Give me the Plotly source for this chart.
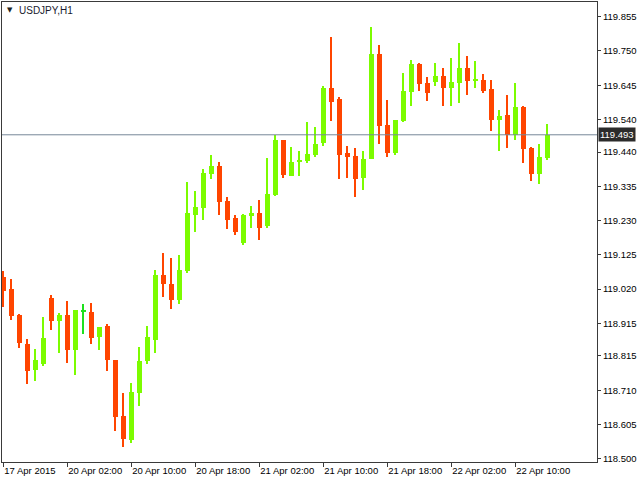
import plotly.graph_objects as go

# ---- data (USDJPY, H1) ----
bar_index = list(range(69))
tick_positions = [0, 8, 16, 24, 32, 40, 48, 56, 64]
tick_labels = ["17 Apr 2015", "20 Apr 02:00", "20 Apr 10:00", "20 Apr 18:00",
               "21 Apr 02:00", "21 Apr 10:00", "21 Apr 18:00", "22 Apr 02:00",
               "22 Apr 10:00"]

opens = [
    119.058, 119.020, 118.941, 118.852, 118.773, 118.791, 118.993, 118.923, 118.941, 118.834,
    118.953, 118.950, 118.874, 118.907, 118.802, 118.631, 118.558, 118.702, 118.800, 118.865,
    119.063, 119.035, 118.987, 119.076, 119.247, 119.269, 119.374, 119.397, 119.290, 119.238,
    119.162, 119.245, 119.253, 119.214, 119.308, 119.477, 119.366, 119.409, 119.412, 119.431,
    119.468, 119.636, 119.603, 119.437, 119.428, 119.360, 119.419, 119.740, 119.523, 119.437,
    119.535, 119.624, 119.710, 119.652, 119.656, 119.673, 119.637, 119.653, 119.698, 119.659,
    119.661, 119.633, 119.539, 119.553, 119.493, 119.578, 119.452, 119.374, 119.423]
highs = [
    119.076, 119.051, 118.944, 118.867, 118.836, 118.934, 119.002, 118.947, 118.984, 118.956,
    118.974, 118.977, 118.904, 118.913, 118.802, 118.701, 118.732, 118.842, 118.907, 119.078,
    119.130, 119.115, 119.124, 119.348, 119.320, 119.388, 119.431, 119.409, 119.302, 119.247,
    119.250, 119.274, 119.293, 119.422, 119.492, 119.477, 119.455, 119.443, 119.532, 119.517,
    119.642, 119.793, 119.609, 119.458, 119.452, 119.443, 119.823, 119.768, 119.599, 119.538,
    119.682, 119.722, 119.713, 119.670, 119.713, 119.698, 119.728, 119.774, 119.734, 119.719,
    119.679, 119.661, 119.569, 119.615, 119.652, 119.581, 119.455, 119.465, 119.526]
lows = [
    118.966, 118.926, 118.840, 118.729, 118.739, 118.785, 118.896, 118.825, 118.794, 118.758,
    118.883, 118.852, 118.834, 118.770, 118.586, 118.537, 118.549, 118.662, 118.791, 118.825,
    118.996, 118.960, 118.975, 119.070, 119.196, 119.232, 119.358, 119.248, 119.205, 119.187,
    119.156, 119.208, 119.171, 119.208, 119.306, 119.361, 119.366, 119.366, 119.406, 119.425,
    119.458, 119.535, 119.357, 119.360, 119.302, 119.324, 119.419, 119.465, 119.425, 119.431,
    119.532, 119.581, 119.627, 119.597, 119.643, 119.582, 119.582, 119.591, 119.616, 119.637,
    119.622, 119.505, 119.444, 119.453, 119.478, 119.407, 119.352, 119.343, 119.416]
closes = [
    119.015, 118.938, 118.856, 118.770, 118.803, 118.870, 118.923, 118.941, 118.834, 118.956,
    118.953, 118.871, 118.904, 118.803, 118.629, 118.561, 118.704, 118.799, 118.873, 119.063,
    119.036, 118.987, 119.078, 119.253, 119.271, 119.376, 119.397, 119.288, 119.232, 119.196,
    119.247, 119.253, 119.208, 119.311, 119.477, 119.370, 119.409, 119.416, 119.434, 119.465,
    119.636, 119.593, 119.431, 119.425, 119.357, 119.419, 119.740, 119.520, 119.437, 119.538,
    119.627, 119.710, 119.649, 119.622, 119.673, 119.637, 119.655, 119.698, 119.659, 119.661,
    119.628, 119.539, 119.550, 119.493, 119.578, 119.450, 119.374, 119.426, 119.493]

y_tick_values = [119.855, 119.750, 119.645, 119.540, 119.440, 119.335, 119.230,
                 119.125, 119.020, 118.915, 118.815, 118.710, 118.605, 118.500]
last_price = 119.493
symbol_label = "USDJPY,H1"

# ---- styling ----
UP = "#7CFC00"
DOWN = "#FF4500"
DOJI = "#1EE01E"
FRAME = "#3a3a3a"
FONT = "Liberation Sans"
MIN_BODY = 0.0035

colors = []
for o, c in zip(opens, closes):
    colors.append(UP if c > o else (DOWN if c < o else DOJI))

body_base = []
body_height = []
for o, c in zip(opens, closes):
    h = abs(c - o)
    if h < MIN_BODY:
        body_base.append(min(o, c) - (MIN_BODY - h) / 2)
        body_height.append(MIN_BODY)
    else:
        body_base.append(min(o, c))
        body_height.append(h)

wick_height = [h - l for h, l in zip(highs, lows)]

fig = go.Figure()
fig.add_trace(go.Bar(x=bar_index, y=wick_height, base=lows, width=0.14,
                     marker=dict(color=colors, line=dict(width=0)),
                     hoverinfo="skip", showlegend=False))
fig.add_trace(go.Bar(x=bar_index, y=body_height, base=body_base, width=0.625,
                     marker=dict(color=colors, line=dict(width=0)),
                     hoverinfo="skip", showlegend=False))

W, H = 640, 480
ml, mr, mt, mb = 2, 43, 2, 18
pw = W - ml - mr  # 595
ph = H - mt - mb  # 460
px_per_bar = 8.0
x0 = -1.3 / px_per_bar
x1 = x0 + pw / px_per_bar

fig.update_layout(
    width=W, height=H,
    margin=dict(l=ml, r=mr, t=mt, b=mb, pad=0),
    paper_bgcolor="white", plot_bgcolor="white",
    barmode="overlay", bargap=0,
    showlegend=False,
    font=dict(family=FONT, size=9.5, color="#000000"),
    xaxis=dict(range=[x0, x1], showgrid=False, zeroline=False,
               showline=True, mirror=True, linecolor=FRAME, linewidth=1,
               ticks="outside", ticklen=4, tickcolor=FRAME, tickwidth=1,
               tickmode="array", tickvals=tick_positions, ticktext=tick_labels,
               ticklabelposition="outside right",
               tickfont=dict(family=FONT, size=9.5, color="#000000")),
    yaxis=dict(range=[118.4899, 119.9001], side="right", showgrid=False,
               zeroline=False, showline=True, mirror=True, linecolor=FRAME,
               linewidth=1, ticks="outside", ticklen=3, tickcolor=FRAME,
               tickwidth=1, tickmode="array", tickvals=y_tick_values,
               ticktext=[f"{v:.3f}" for v in y_tick_values],
               tickfont=dict(family=FONT, size=9.5, color="#000000")),
)

fig.add_shape(type="line", xref="paper", x0=0, x1=1, yref="y",
              y0=last_price, y1=last_price,
              line=dict(color="#778899", width=1))

fig.add_annotation(xref="paper", x=1, xanchor="left", xshift=1,
                   yref="y", y=last_price, yanchor="middle",
                   text=f"{last_price:.3f}", showarrow=False,
                   bgcolor="#2b2b2b", borderpad=1,
                   font=dict(family=FONT, size=9.5, color="white"))

fig.add_annotation(xref="paper", x=(5 - ml) / pw, xanchor="left",
                   yref="paper", y=(H - mb - 10) / ph, yanchor="middle",
                   text="\u25BC", showarrow=False,
                   font=dict(family="DejaVu Sans", size=7, color="#222222"))
fig.add_annotation(xref="paper", x=(17 - ml) / pw, xanchor="left",
                   yref="paper", y=(H - mb - 10) / ph, yanchor="middle",
                   text=symbol_label, showarrow=False,
                   font=dict(family=FONT, size=10, color="#1a1a2e"))

fig.write_html("out.html")
